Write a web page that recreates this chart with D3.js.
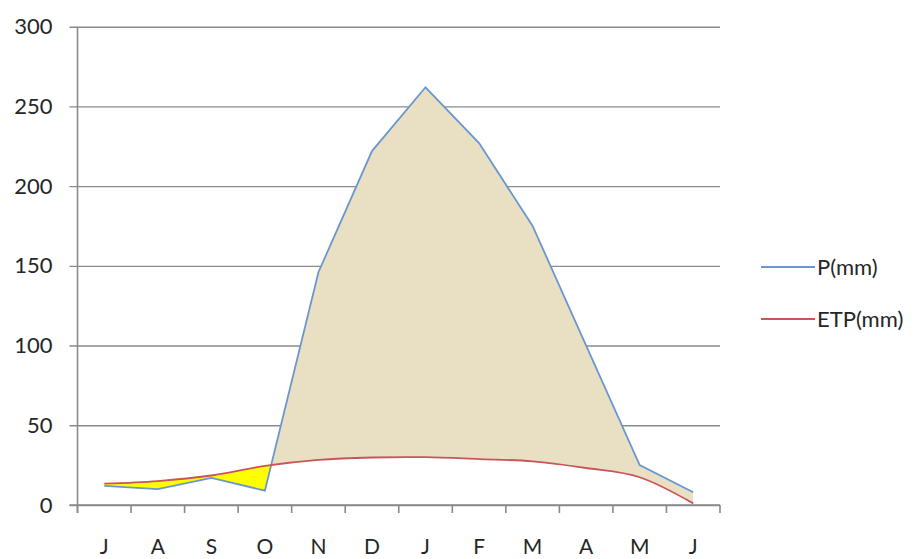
<!DOCTYPE html>
<html>
<head>
<meta charset="utf-8">
<script src="https://cdn.jsdelivr.net/npm/d3@7"></script>
<style>
  html, body { margin: 0; padding: 0; background: #fff; }
  svg { display: block; }
  text { font-family: Lato, "Open Sans", sans-serif; fill: #262626; }
</style>
</head>
<body>
<svg id="chart" width="914" height="559"></svg>
<script>
const months = ["J", "A", "S", "O", "N", "D", "J", "F", "M", "A", "M", "J"];
const precip = [12, 10, 17, 9, 146, 222, 262, 227, 175, 100, 25, 8];
const etp = [13.4, 15, 18.5, 24.5, 28.3, 29.8, 30, 28.8, 27.4, 23.2, 17.4, 1];
const yTicks = [0, 50, 100, 150, 200, 250, 300];
const seriesNames = ["P(mm)", "ETP(mm)"];

(function () {
const svg = d3.select("#chart");
const mLeft = 77.5, mRight = 720, mTop = 26.7, mBottom = 505;
const fontFam = "Lato, Open Sans, sans-serif";

const x = d3.scaleBand().domain(d3.range(months.length)).range([mLeft, mRight]).paddingInner(0).paddingOuter(0);
const y = d3.scaleLinear().domain([0, 300]).range([mBottom, mTop]);
const cx = i => x(i) + x.bandwidth() / 2;

const gridColor = "#8a8a8a";

// gridlines + y labels
const gy = svg.append("g").attr("transform", `translate(${mLeft},0)`)
  .call(d3.axisLeft(y).tickValues(yTicks).tickSize(-(mRight - mLeft)).tickSizeOuter(0).tickPadding(25));
gy.select(".domain").remove();
gy.selectAll(".tick line").attr("stroke", gridColor).attr("stroke-width", 1.4).attr("x1", -8);
gy.selectAll(".tick text").attr("font-size", 22).attr("font-family", fontFam).attr("fill", "#262626");

const curveE = d3.curveCardinal.tension(0);
const idx = d3.range(months.length);

const defs = svg.append("defs");
defs.append("clipPath").attr("id", "belowP").append("path")
  .attr("d", d3.area().x(i => cx(i)).y0(mBottom + 20).y1(i => y(precip[i]))(idx));
defs.append("clipPath").attr("id", "aboveP").append("path")
  .attr("d", d3.area().x(i => cx(i)).y0(0).y1(i => y(precip[i]))(idx));

// surplus (tan): above ETP and below P
svg.append("path")
  .attr("d", d3.area().x(i => cx(i)).y0(0).y1(i => y(etp[i])).curve(curveE)(idx))
  .attr("fill", "#E9E0C4")
  .attr("clip-path", "url(#belowP)");
// deficit (yellow): below ETP and above P
svg.append("path")
  .attr("d", d3.area().x(i => cx(i)).y0(mBottom + 20).y1(i => y(etp[i])).curve(curveE)(idx))
  .attr("fill", "#FFFF00")
  .attr("clip-path", "url(#aboveP)");

// x axis labels
const gx = svg.append("g").attr("transform", `translate(0,${mBottom})`)
  .call(d3.axisBottom(x).tickSize(0).tickFormat(i => months[i]));
gx.select(".domain").remove();
gx.selectAll(".tick text").attr("y", 49).attr("dy", 0)
  .attr("font-size", 21).attr("font-family", fontFam).attr("fill", "#262626");
svg.append("line").attr("x1", mLeft - 8).attr("x2", mRight).attr("y1", mBottom).attr("y2", mBottom)
  .attr("stroke", gridColor).attr("stroke-width", 1.6);
svg.append("g").selectAll("line").data(d3.range(months.length + 1)).join("line")
  .attr("x1", i => i < months.length ? x(i) : mRight).attr("x2", i => i < months.length ? x(i) : mRight)
  .attr("y1", mBottom).attr("y2", mBottom + 8)
  .attr("stroke", gridColor).attr("stroke-width", 1.6);
svg.append("line").attr("x1", mLeft).attr("x2", mLeft).attr("y1", mTop).attr("y2", mBottom + 8)
  .attr("stroke", gridColor).attr("stroke-width", 1.6);

// lines
svg.append("path")
  .attr("d", d3.line().x(i => cx(i)).y(i => y(precip[i]))(idx))
  .attr("fill", "none").attr("stroke", "#6A97CF").attr("stroke-width", 1.8);
svg.append("path")
  .attr("d", d3.line().x(i => cx(i)).y(i => y(etp[i])).curve(curveE)(idx))
  .attr("fill", "none").attr("stroke", "#C9545A").attr("stroke-width", 1.8);

// legend
const legColors = ["#6A97CF", "#C9545A"];
const leg = svg.append("g");
seriesNames.forEach((n, k) => {
  const ly = 267 + k * 52;
  leg.append("line").attr("x1", 761).attr("x2", 815).attr("y1", ly).attr("y2", ly)
    .attr("stroke", legColors[k]).attr("stroke-width", 1.8);
  leg.append("text").attr("x", 817).attr("y", ly).attr("dy", "0.36em")
    .attr("font-size", 22).attr("font-family", fontFam).text(n);
});
})();
</script>
</body>
</html>
